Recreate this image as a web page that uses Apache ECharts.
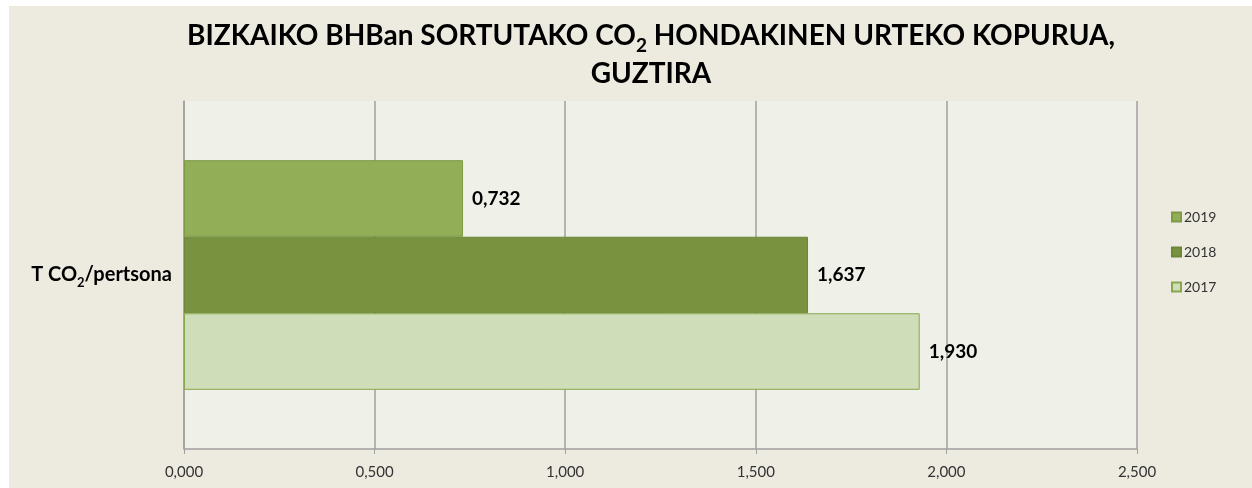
<!DOCTYPE html>
<html>
<head>
<meta charset="utf-8">
<script src="https://cdn.jsdelivr.net/npm/echarts@6/dist/echarts.min.js"></script>
<style>
html,body{margin:0;padding:0;background:#ffffff;width:1252px;height:488px;overflow:hidden;}
#chart{position:absolute;left:9px;top:6px;width:1243px;height:482px;background:#EDEBE0;}
</style>
</head>
<body>
<div id="chart"></div>
<script>
const categories = ['T CO2/pertsona'];
const years = ['2019', '2018', '2017'];
const values2017 = [1.930];
const values2018 = [1.637];
const values2019 = [0.732];
const xTicks = [0, 0.5, 1.0, 1.5, 2.0, 2.5];
const legendOrder = ['2019', '2018', '2017'];

const fmt = v => Number(v).toFixed(3).replace('.', ',');
const FONT = 'Lato';

const chart = echarts.init(document.getElementById('chart'), null, {renderer: 'canvas'});

const seriesStyles = {
  '2017': {color: '#D0DDB9', borderColor: '#88A84C'},
  '2018': {color: '#78923F', borderColor: '#6C8737'},
  '2019': {color: '#92AE57', borderColor: '#7D9A44'}
};
const seriesData = {'2017': values2017, '2018': values2018, '2019': values2019};

const option = {
  animation: false,
  textStyle: {fontFamily: FONT},
  title: {
    text: '{t|BIZKAIKO BHBan SORTUTAKO CO}{s|2}{t| HONDAKINEN URTEKO KOPURUA,}\n{t|GUZTIRA}',
    left: 637,
    top: 6,
    textAlign: 'center',
    textStyle: {
      rich: {
        t: {fontFamily: FONT, fontWeight: 'bold', fontSize: 28, color: '#000', lineHeight: 38, verticalAlign: 'bottom', padding: [0, 0, 5, 0]},
        s: {fontFamily: FONT, fontWeight: 'bold', fontSize: 19, color: '#000', lineHeight: 38, verticalAlign: 'bottom', padding: [0, 0, 0, 0]}
      }
    }
  },
  legend: {
    orient: 'vertical',
    left: 1157,
    top: 199,
    data: legendOrder,
    icon: 'rect',
    itemWidth: 9,
    itemHeight: 9,
    itemGap: 21,
    textStyle: {fontFamily: FONT, fontSize: 14, color: '#333', padding: [0, 0, 0, -2]}
  },
  grid: {
    left: 175, top: 95, right: 115, bottom: 39,
    show: true, backgroundColor: '#EFF1E9', borderWidth: 0
  },
  xAxis: {
    type: 'value',
    min: 0, max: 2.5, interval: 0.5,
    axisLine: {show: true, lineStyle: {color: '#A0A0A0', width: 1.5}},
    axisTick: {show: true, length: 5, lineStyle: {color: '#A0A0A0'}},
    splitLine: {show: true, lineStyle: {color: '#A0A0A0', width: 1.5}},
    axisLabel: {
      margin: 16, fontFamily: FONT, fontSize: 15, color: '#333',
      formatter: v => fmt(v)
    }
  },
  yAxis: {
    type: 'category',
    data: categories,
    axisLine: {show: true, lineStyle: {color: '#A0A0A0', width: 1.5}},
    axisTick: {show: false},
    axisLabel: {
      margin: 12,
      formatter: () => '{a|T CO}{s|2}{a|/pertsona}',
      rich: {
        a: {fontFamily: FONT, fontWeight: 'bold', fontSize: 20, color: '#000', lineHeight: 28, verticalAlign: 'bottom', padding: [0, 0, 4, 0]},
        s: {fontFamily: FONT, fontWeight: 'bold', fontSize: 13, color: '#000', lineHeight: 28, verticalAlign: 'bottom'}
      }
    }
  },
  series: years.map(y => ({
    name: y,
    type: 'bar',
    data: seriesData[y],
    barGap: '0%',
    barCategoryGap: '34%',
    itemStyle: {color: seriesStyles[y].color, borderColor: seriesStyles[y].borderColor, borderWidth: 1},
    label: {
      show: true, position: 'right', distance: 9,
      fontFamily: FONT, fontWeight: 'bold', fontSize: 19, color: '#000',
      formatter: p => fmt(p.value)
    }
  }))
};
chart.setOption(option);
</script>
</body>
</html>
